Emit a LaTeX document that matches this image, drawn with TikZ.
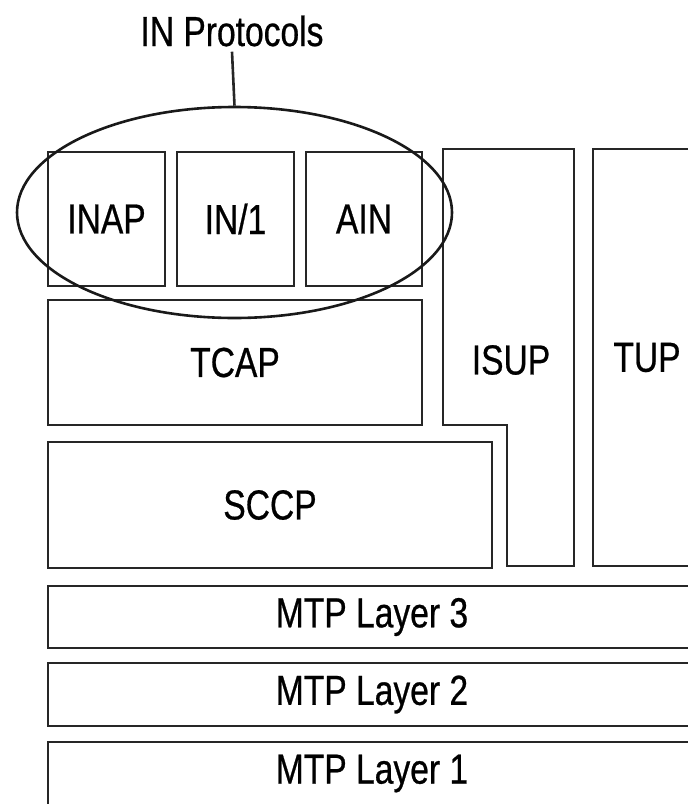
\documentclass[tikz,border=0pt]{standalone}
\usepackage{fontspec}
\setmainfont{Liberation Sans}[FakeStretch=0.8,FakeBold=0.6]
\usetikzlibrary{positioning,shapes.geometric}

\begin{document}
\begin{tikzpicture}[x=1pt,y=-1pt,line width=2.6pt,
    layer/.style={draw=black!85,line width=2.6pt,inner sep=0pt,font=\fontsize{42}{48}\selectfont},
    lbl/.style={inner sep=0pt,font=\fontsize{42}{48}\selectfont}]
      \useasboundingbox (0,0) rectangle (688,804);
      \clip (0,0) rectangle (688,804);
      % IN protocols on top of TCAP
      \node[layer,minimum width=117pt,minimum height=134pt] (inap) at (106.5,219) {INAP};
      \node[layer,minimum width=117pt,minimum height=134pt] (inone) at (235.5,219) {IN/1};
      \node[layer,minimum width=116pt,minimum height=134pt] (ain) at (364,219) {AIN};
      \node[layer,minimum width=374pt,minimum height=125pt] (tcap) at (235,362.5) {TCAP};
      \node[layer,minimum width=444pt,minimum height=126pt] (sccp) at (270,505) {SCCP};
      % ISUP steps round SCCP
      \draw[draw=black!85] (443,149) -- (574,149) -- (574,566) -- (507,566) -- (507,425) -- (443,425) -- cycle;
      \node[lbl] (isup) at (511,360) {ISUP};
      \node[layer,minimum width=108pt,minimum height=417pt] (tup) at (647,357.5) {TUP};
      % MTP
      \node[layer,minimum width=648pt,minimum height=62pt] (mtpc) at (372,617) {MTP Layer 3};
      \node[layer,minimum width=648pt,minimum height=63pt] (mtpb) at (372,694.5) {MTP Layer 2};
      \node[layer,minimum width=648pt,minimum height=63pt] (mtpa) at (372,773.5) {MTP Layer 1};
      \node[ellipse,draw=black!90,minimum width=435pt,minimum height=211pt] (inprot) at (234.5,212.5) {};
      \node[lbl,inner sep=4pt] (inlabel) at (232,31) {IN Protocols};
      \draw[draw=black!85] (inlabel.south) -- (inprot.north);
    \end{tikzpicture}
\end{document}
